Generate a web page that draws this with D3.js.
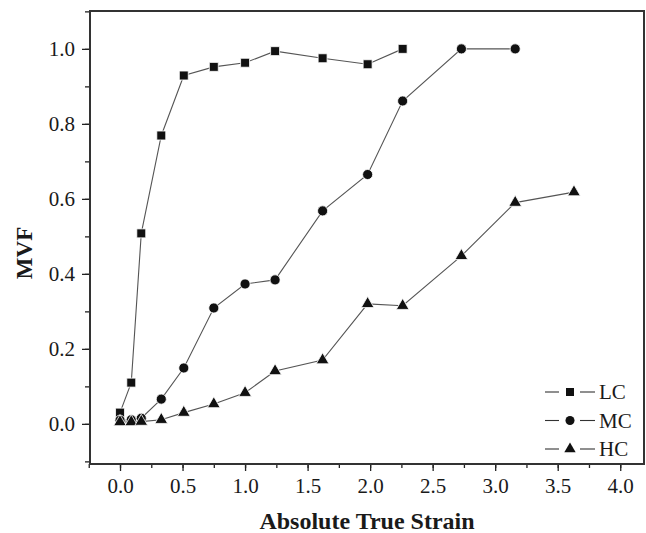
<!DOCTYPE html>
<html>
<head>
<meta charset="utf-8">
<script src="https://cdn.jsdelivr.net/npm/d3@7"></script>
<style>
  body { margin: 0; background: #fff; }
  svg text { font-family: "Liberation Serif", "Times New Roman", serif; fill: #1a1a1a; }
</style>
</head>
<body>
<script>
// strain values shared by all three series
var strain = [0, 0.09, 0.17, 0.33, 0.51, 0.75, 1.0, 1.24, 1.62, 1.98, 2.26, 2.73, 3.16, 3.63];

var lcMVF = [0.03, 0.11, 0.508, 0.769, 0.929, 0.952, 0.963, 0.994, 0.975, 0.959, 1.0];
var mcMVF = [0.01, 0.011, 0.015, 0.066, 0.149, 0.309, 0.373, 0.384, 0.568, 0.665, 0.861, 1.0, 1.0];
var hcMVF = [0.005, 0.005, 0.006, 0.011, 0.03, 0.053, 0.083, 0.141, 0.17, 0.32, 0.315, 0.448, 0.59, 0.618];

var seriesNames = ["LC", "MC", "HC"];
var xTicks = [0, 0.5, 1, 1.5, 2, 2.5, 3, 3.5, 4];
var yTicks = [0, 0.2, 0.4, 0.6, 0.8, 1.0];

var width = 646, height = 533;
var plot = { left: 90, right: 644, top: 11, bottom: 464 };

var svg = d3.select("body").append("svg")
    .attr("width", width)
    .attr("height", height);

var xScale = d3.scaleLinear().domain([-0.24, 4.19]).range([plot.left, plot.right]);
var yScale = d3.scaleLinear().domain([-0.107, 1.101]).range([plot.bottom, plot.top]);

// x axis (major + minor ticks)
var xMinor = d3.range(-0.25, 4.2, 0.25).filter(function (d) { return xScale(d) >= plot.left - 2; });
var xAxisMinor = d3.axisBottom(xScale).tickValues(xMinor).tickSize(4).tickFormat("");
var xAxis = d3.axisBottom(xScale).tickValues(xTicks).tickSize(7).tickPadding(7).tickFormat(d3.format(".1f"));

svg.append("g").attr("class", "x axis minor")
    .attr("transform", "translate(0," + plot.bottom + ")")
    .call(xAxisMinor);
var xg = svg.append("g").attr("class", "x axis")
    .attr("transform", "translate(0," + plot.bottom + ")")
    .call(xAxis);
xg.selectAll("text").attr("font-size", "21px");

// y axis
var yMinor = d3.range(-0.1, 1.11, 0.1);
var yAxisMinor = d3.axisLeft(yScale).tickValues(yMinor).tickSize(5).tickFormat("");
var yAxis = d3.axisLeft(yScale).tickValues(yTicks).tickSize(8).tickPadding(7).tickFormat(d3.format(".1f"));

svg.append("g").attr("class", "y axis minor")
    .attr("transform", "translate(" + plot.left + ",0)")
    .call(yAxisMinor);
var yg = svg.append("g").attr("class", "y axis")
    .attr("transform", "translate(" + plot.left + ",0)")
    .call(yAxis);
yg.selectAll("text").attr("font-size", "21px");

svg.selectAll(".axis .domain").remove();
svg.selectAll(".axis line").attr("stroke", "#222").attr("stroke-width", 1.3);

// frame
svg.append("rect")
    .attr("x", plot.left).attr("y", plot.top)
    .attr("width", plot.right - plot.left).attr("height", plot.bottom - plot.top)
    .attr("fill", "none").attr("stroke", "#333").attr("stroke-width", 2);

// axis titles
svg.append("text")
    .attr("x", 367).attr("y", 529)
    .attr("text-anchor", "middle")
    .attr("font-size", "24px").attr("font-weight", "bold")
    .text("Absolute True Strain");

svg.append("text")
    .attr("transform", "translate(32,253) rotate(-90)")
    .attr("text-anchor", "middle")
    .attr("font-size", "23px").attr("font-weight", "bold")
    .text("MVF");

var symbols = [d3.symbolSquare, d3.symbolCircle, d3.symbolTriangle];
var sizes = [80, 80, 70];
var allSeries = [lcMVF, mcMVF, hcMVF];

var line = d3.line()
    .x(function (d) { return xScale(d.x); })
    .y(function (d) { return yScale(d.y); });

allSeries.forEach(function (vals, i) {
    var pts = vals.map(function (v, j) { return { x: strain[j], y: v }; });

    svg.append("path")
        .datum(pts)
        .attr("fill", "none")
        .attr("stroke", "#555")
        .attr("stroke-width", 1.1)
        .attr("d", line);

    svg.selectAll(".pt" + i)
        .data(pts)
        .enter().append("path")
        .attr("class", "pt" + i)
        .attr("transform", function (d) { return "translate(" + xScale(d.x) + "," + yScale(d.y) + ")"; })
        .attr("d", d3.symbol().type(symbols[i]).size(sizes[i]))
        .attr("fill", "#111")
        .attr("stroke", "#fff")
        .attr("stroke-width", 0.8);
});

// legend
var legend = svg.append("g").attr("class", "legend");
seriesNames.forEach(function (name, i) {
    var ly = 392 + i * 28.5;
    legend.append("line").attr("x1", 545).attr("x2", 559).attr("y1", ly).attr("y2", ly)
        .attr("stroke", "#333").attr("stroke-width", 1.1);
    legend.append("line").attr("x1", 580).attr("x2", 595).attr("y1", ly).attr("y2", ly)
        .attr("stroke", "#333").attr("stroke-width", 1.1);
    legend.append("path")
        .attr("transform", "translate(570," + ly + ")")
        .attr("d", d3.symbol().type(symbols[i]).size(sizes[i] * 0.8))
        .attr("fill", "#111");
    legend.append("text")
        .attr("x", 599).attr("y", ly + 7)
        .attr("font-size", "21px")
        .text(name);
});
</script>
</body>
</html>
